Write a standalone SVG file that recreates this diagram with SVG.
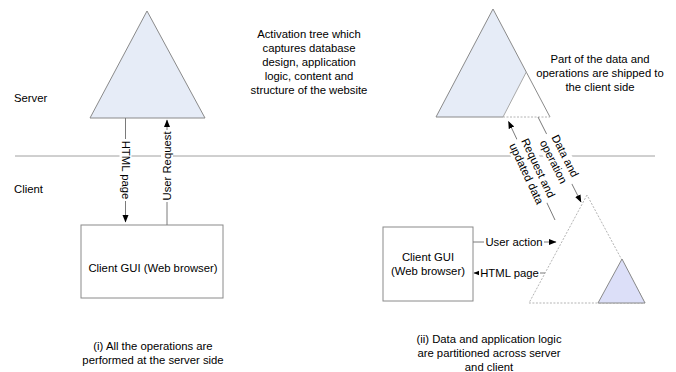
<svg xmlns="http://www.w3.org/2000/svg" width="676" height="372" viewBox="0 0 676 372">
<style>
.t{font-family:"Liberation Sans",Arial,sans-serif;font-size:11.3px;fill:#000}
.ln{stroke:#7a7a7a;stroke-width:1;fill:none}
.edge{stroke:#8a8a8a;stroke-width:1;fill:none}
.dash{stroke:#b4b4b4;stroke-width:1;stroke-dasharray:2 1.5;fill:none}
.bg{fill:#fff}
.box{fill:#fff;stroke:#8a8a8a;stroke-width:1}
</style>
<defs>
<marker id="ah" markerWidth="8" markerHeight="7" refX="7" refY="3" orient="auto" markerUnits="userSpaceOnUse">
<path d="M0,0 L7.5,3 L0,6 z" fill="#000"/>
</marker>
</defs>
<rect width="676" height="372" fill="#fff"/>
<line x1="15" y1="156" x2="655" y2="156" stroke="#a0a0a0" stroke-width="1"/>
<text class="t" x="14" y="102">Server</text>
<text class="t" x="14" y="193">Client</text>

<g id="server-tree-left">
<polygon points="147,11 90,118 205,118" fill="#e6ecf7" stroke="#8a8a8a" stroke-width="1"/>
</g>
<g id="client-gui-left">
<rect class="box" x="81" y="225" width="142" height="73"/>
<text class="t" x="153" y="272" text-anchor="middle">Client GUI (Web browser)</text>
</g>

<g id="server-tree-right">
<polygon points="493,9 436,117 503,117 526.3,72" fill="#e6ecf7"/>
<polyline class="edge" points="550,117 493,9 436,117 503,117"/>
<line class="dash" x1="503" y1="117" x2="550" y2="117"/>
<line x1="526.3" y1="72" x2="503" y2="117" stroke="#a8a8a8" stroke-width="1"/>
</g>
<g id="client-tree-right">
<polygon class="dash" points="587,195 529,303 645,303"/>
<polygon points="622,259 598,303 645,303" fill="#dcdff8" stroke="#8a8a8a" stroke-width="1"/>
</g>
<g id="client-gui-right">
<rect class="box" x="383" y="227" width="90" height="74"/>
<text class="t" x="428" y="261" text-anchor="middle">Client GUI</text>
<text class="t" x="428" y="275" text-anchor="middle">(Web browser)</text>
</g>

<g id="connectors">
<line class="ln" x1="125.5" y1="118" x2="125.5" y2="222" marker-end="url(#ah)"/>
<line class="ln" x1="167" y1="225" x2="167" y2="120" marker-end="url(#ah)"/>
<line class="ln" x1="538" y1="117" x2="581" y2="202" marker-end="url(#ah)"/>
<line class="ln" x1="555" y1="220" x2="508.5" y2="121.5" marker-end="url(#ah)"/>
<line class="ln" x1="473" y1="242" x2="556" y2="242" marker-end="url(#ah)"/>
<line class="ln" x1="545" y1="273" x2="474" y2="273" marker-end="url(#ah)"/>
</g>

<g id="connector-labels">
<g transform="translate(125.5,170) rotate(90)">
<rect class="bg" x="-31" y="-6" width="62" height="12"/>
<text class="t" x="0" y="4" text-anchor="middle">HTML page</text>
</g>
<g transform="translate(167,166) rotate(-90)">
<rect class="bg" x="-36" y="-6" width="72" height="12"/>
<text class="t" x="0" y="4" text-anchor="middle">User Request</text>
</g>
<g transform="translate(559,159) rotate(63.2)">
<rect class="bg" x="-28" y="-13" width="56" height="26"/>
<text class="t" x="0" y="-3" text-anchor="middle">Data and</text>
<text class="t" x="0" y="10" text-anchor="middle">operation</text>
</g>
<g transform="translate(532,171) rotate(64.8)">
<rect class="bg" x="-35" y="-13" width="70" height="26"/>
<text class="t" x="0" y="-3" text-anchor="middle">Request and</text>
<text class="t" x="0" y="10" text-anchor="middle">updated data</text>
</g>
<rect class="bg" x="484" y="236" width="60" height="12"/>
<text class="t" x="514" y="246" text-anchor="middle">User action</text>
<rect class="bg" x="479" y="267" width="61" height="12"/>
<text class="t" x="509.5" y="277" text-anchor="middle">HTML page</text>
</g>

<g id="notes">
<text class="t" text-anchor="middle" x="309"><tspan x="309" y="38">Activation tree which</tspan><tspan x="309" y="52">captures database</tspan><tspan x="309" y="66">design, application</tspan><tspan x="309" y="80">logic, content and</tspan><tspan x="309" y="94">structure of the website</tspan></text>
<text class="t" text-anchor="middle" x="600"><tspan x="600" y="63">Part of the data and</tspan><tspan x="600" y="77">operations are shipped to</tspan><tspan x="600" y="91">the client side</tspan></text>
<text class="t" text-anchor="middle" x="153"><tspan x="153" y="350">(i) All the operations are</tspan><tspan x="153" y="364">performed at the server side</tspan></text>
<text class="t" text-anchor="middle" x="489"><tspan x="489" y="343">(ii) Data and application logic</tspan><tspan x="489" y="357">are partitioned across server</tspan><tspan x="489" y="371">and client</tspan></text>
</g>
</svg>
